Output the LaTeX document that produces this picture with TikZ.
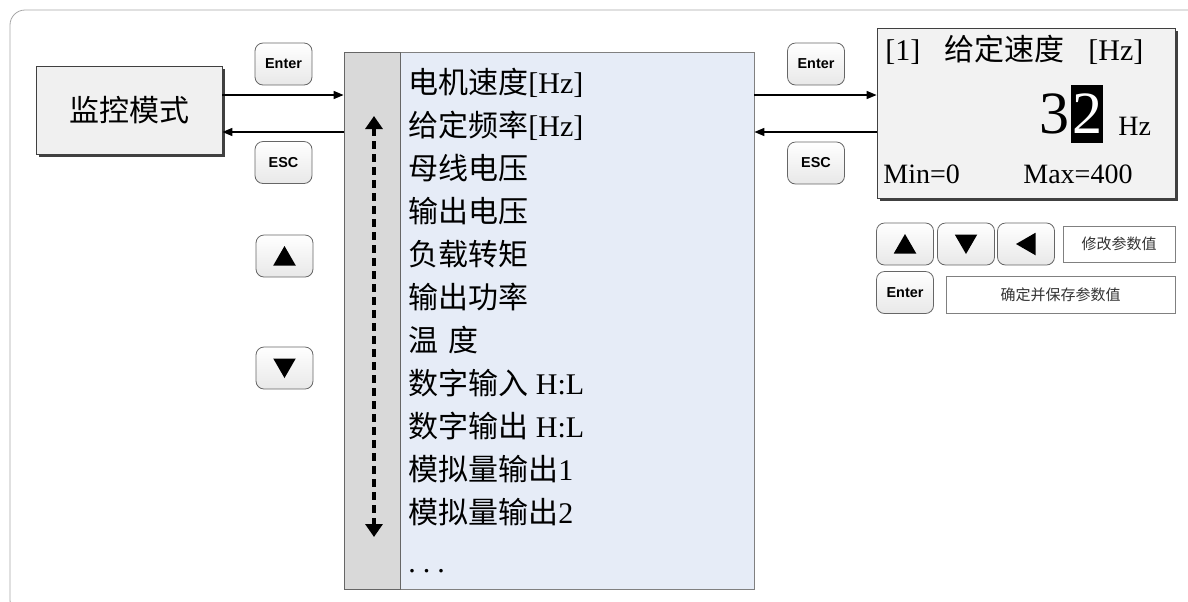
\documentclass[tikz,border=0pt]{standalone}
\usepackage{fontspec}
\setmainfont{Liberation Serif}
\newfontfamily\cjk{Noto Sans CJK SC}
\newfontfamily\keyfont{Liberation Sans}
\usetikzlibrary{arrows.meta}
\usetikzlibrary{shapes.geometric}
\usetikzlibrary{shadows}
\definecolor{framegray}{HTML}{A6A6A6}
\definecolor{listblue}{HTML}{E6ECF7}
\definecolor{stripgray}{HTML}{D9D9D9}
\definecolor{boxgray}{HTML}{F0F0F0}
\tikzstyle{key}=[draw=gray!80!black, rounded corners=4pt, top color=white, bottom color=gray!18, minimum width=28.5pt, minimum height=21pt, inner sep=0pt, font=\keyfont\bfseries\fontsize{7.2}{8.5}\selectfont]
\tikzstyle{keytri}=[regular polygon, regular polygon sides=3, fill=black, inner sep=0pt, minimum size=13pt]
\tikzstyle{screen}=[draw=black!75, fill=boxgray, drop shadow={shadow xshift=1.5pt, shadow yshift=-1.5pt, fill=black!75, opacity=1}]
\tikzstyle{item}=[anchor=base west, inner sep=0pt, font=\fontsize{15}{18}\selectfont]
\tikzstyle{lcdtext}=[anchor=base west, inner sep=0pt, font=\fontsize{14}{17}\selectfont]
\tikzstyle{digit}=[inner sep=0pt, font=\fontsize{30}{36}\selectfont]
\tikzstyle{hint}=[draw=gray, inner sep=0pt, text=black!80, font=\cjk\fontsize{7.5}{9}\selectfont]
\tikzstyle{link}=[line width=0.75pt, -{Triangle[length=5pt,width=4pt]}]
\tikzstyle{scroll}=[line width=1.6pt, dash pattern=on 4pt off 2.5pt, {Triangle[length=6.5pt,width=8.5pt]}-{Triangle[length=6.5pt,width=8.5pt]}]

\begin{document}
\begin{tikzpicture}[x=0.5pt, y=-0.5pt]
        \useasboundingbox (0,0) rectangle (1188,601);
        \draw[framegray, rounded corners=7.5pt] (10,10) rectangle (1210,615);
        % left side
        \node[screen, minimum width=93pt, minimum height=44pt, font=\cjk\fontsize{15}{18}\selectfont] (mode) at (129,110) {监控模式};
        \node[key] (enterL) at (283.5,64) {Enter};
        \node[key] (escL) at (283.5,162.5) {ESC};
        \node[key] (upL) at (284.5,256) {};
        \node[key] (downL) at (284.5,368) {};
        \node[keytri] (upLtri) at (284.5,259) {};
        \node[keytri, shape border rotate=180] (downLtri) at (284.5,365) {};
        % menu list
        \node[draw=gray, fill=listblue, minimum width=205pt, minimum height=268.5pt, inner sep=0pt] (panel) at (549,320.5) {};
        \node[draw=black!60, fill=stripgray, minimum width=28pt, minimum height=268.5pt, inner sep=0pt] (strip) at (372,320.5) {};
        \node[item] (item1)  at (408,93)  {{\cjk 电机速度}[Hz]};
        \node[item] (item2)  at (408,136) {{\cjk 给定频率}[Hz]};
        \node[item] (item3)  at (408,179) {{\cjk 母线电压}};
        \node[item] (item4)  at (408,222) {{\cjk 输出电压}};
        \node[item] (item5)  at (408,265) {{\cjk 负载转矩}};
        \node[item] (item6)  at (408,308) {{\cjk 输出功率}};
        \node[item] (item7)  at (408,351) {{\cjk 温}\hspace{5pt}{\cjk 度}};
        \node[item] (item8)  at (408,394) {{\cjk 数字输入} H:L};
        \node[item] (item9)  at (408,437) {{\cjk 数字输出} H:L};
        \node[item] (item10) at (408,480) {{\cjk 模拟量输出}1};
        \node[item] (item11) at (408,523) {{\cjk 模拟量输出}2};
        \node[item] (item12) at (408,572) {.\hspace{3.5pt}.\hspace{3.5pt}.};
        \coordinate (scrollTop) at (374,116);
        \coordinate (scrollBot) at (374,537);
        \draw[scroll] (scrollTop) -- (scrollBot);
        \draw[link] ([yshift=7.5pt]mode.east) -- ([yshift=7.5pt]mode.east -| panel.west);
        \draw[link] ([yshift=-11pt]mode.east -| panel.west) -- ([yshift=-11pt]mode.east);
        % right side
        \node[key] (enterR) at (816,64) {Enter};
        \node[key] (escR) at (816,163) {ESC};
        \node[screen, fill=boxgray!90, minimum width=149pt, minimum height=85pt] (lcd) at (1026,113) {};
        \node[lcdtext, font=\fontsize{15}{18}\selectfont] (title) at (885,60) {[1]\hspace{12pt}{\cjk 给定速度}\hspace{12pt}[Hz]};
        \node[digit, anchor=base east] (digA) at (1070,133) {3};
        \node[digit, anchor=base west, fill=black, text=white, inner xsep=0.3pt, text height=24pt, text depth=5pt] (digB) at (1071,133) {2};
        \node[lcdtext] (unit) at (1118,135) {Hz};
        \node[lcdtext] (minval) at (883,183) {Min=0};
        \node[lcdtext] (maxval) at (1023,183) {Max=400};
        \draw[link] ([yshift=9pt]lcd.west -| panel.east) -- ([yshift=9pt]lcd.west);
        \draw[link] ([yshift=-9.5pt]lcd.west) -- ([yshift=-9.5pt]lcd.west -| panel.east);
        \node[key] (upR) at (905,244) {};
        \node[key] (downR) at (966,244) {};
        \node[key] (leftR) at (1026,244) {};
        \node[keytri] (upRtri) at (905,247) {};
        \node[keytri, shape border rotate=180] (downRtri) at (966,241) {};
        \node[keytri, shape border rotate=90] (leftRtri) at (1029,244) {};
        \node[hint, minimum width=56pt, minimum height=18pt] (hintA) at (1119,244) {修改参数值};
        \node[key] (enterS) at (905,292.5) {Enter};
        \node[hint, minimum width=114.5pt, minimum height=18.5pt] (hintB) at (1060.5,294.5) {确定并保存参数值};
    \end{tikzpicture}
\end{document}
